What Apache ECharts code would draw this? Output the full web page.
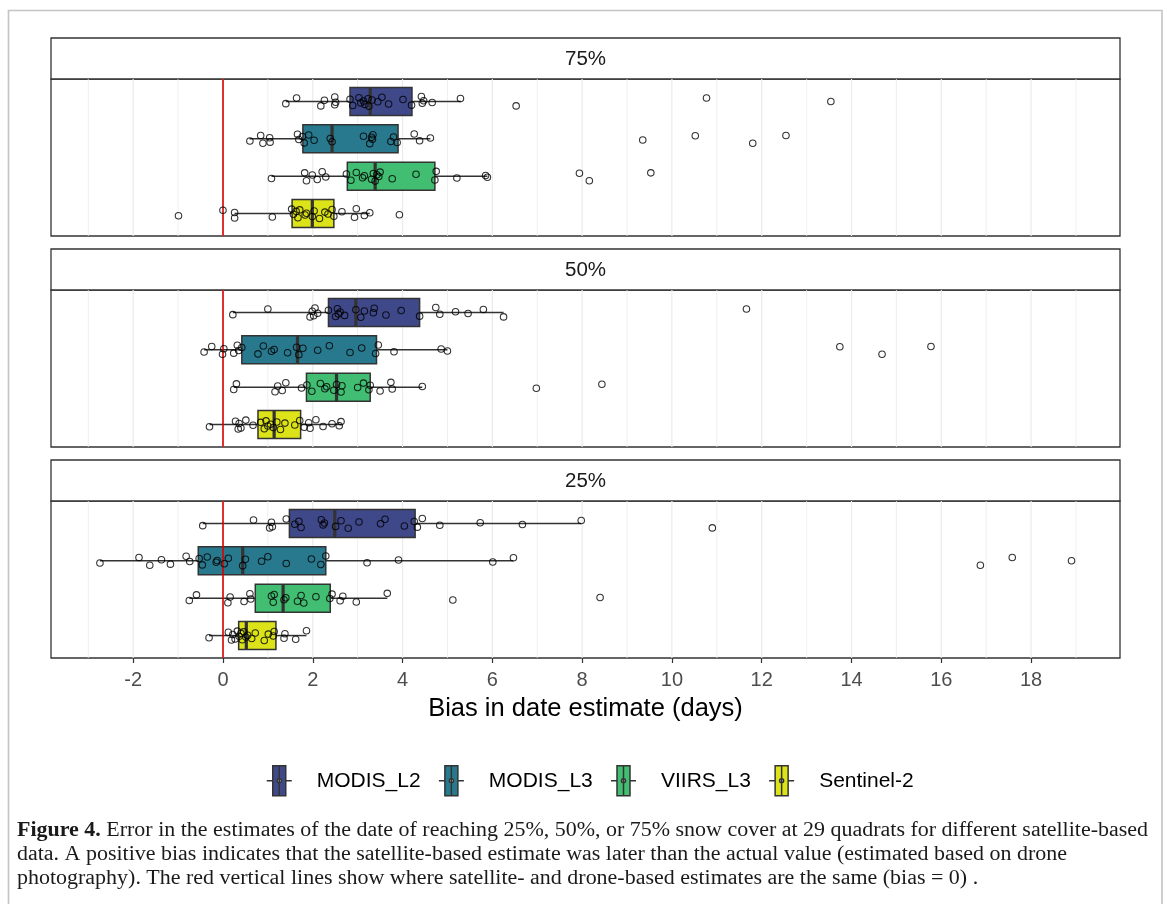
<!DOCTYPE html>
<html><head><meta charset="utf-8">
<script src="https://cdn.jsdelivr.net/npm/echarts@6/dist/echarts.min.js"></script>
<style>html,body{margin:0;padding:0;background:#fff}#c{width:1167px;height:904px}</style>
</head><body><div id="c"></div>
<script>
// ---------- DATA ----------
const satellites = ['MODIS_L2', 'MODIS_L3', 'VIIRS_L3', 'Sentinel-2'];
const panelLabels = ['75%', '50%', '25%'];
const xTickValues = [-2, 0, 2, 4, 6, 8, 10, 12, 14, 16, 18];
const xGridValues = [-3, -2, -1, 0, 1, 2, 3, 4, 5, 6, 7, 8, 9, 10, 11, 12, 13, 14, 15, 16, 17, 18, 19];
const xAxisTitle = 'Bias in date estimate (days)';
const zeroBias = 0;

// box statistics per satellite: [lower whisker, Q1, median, Q3, upper whisker]
const box75 = [[1.40, 2.83, 3.28, 4.21, 5.30], [0.59, 1.78, 2.43, 3.90, 4.62], [1.08, 2.77, 3.39, 4.72, 5.89], [0.26, 1.54, 1.99, 2.47, 3.27]];
const box50 = [[0.22, 2.35, 2.96, 4.38, 6.25], [-0.42, 0.42, 1.66, 3.42, 5.00], [0.24, 1.86, 2.53, 3.28, 4.44], [-0.30, 0.78, 1.14, 1.73, 2.65]];
const box25 = [[-0.45, 1.48, 2.49, 4.28, 7.98], [-2.74, -0.55, 0.44, 2.29, 6.47], [-0.75, 0.72, 1.34, 2.39, 3.66], [-0.31, 0.35, 0.52, 1.18, 1.86]];

// individual quadrat biases (days)
const pts75_modisL2 = [1.40, 1.64, 2.18, 2.26, 2.49, 2.49, 2.51, 2.83, 2.89, 3.03, 3.07, 3.13, 3.16, 3.23, 3.25, 3.32, 3.45, 3.54, 3.69, 4.01, 4.20, 4.42, 4.44, 4.47, 4.66, 5.29, 6.53, 10.77, 13.54];
const pts75_modisL3 = [0.60, 0.84, 0.89, 1.04, 1.05, 1.66, 1.69, 1.77, 1.81, 1.91, 2.03, 2.39, 2.43, 3.13, 3.27, 3.31, 3.33, 3.34, 3.74, 3.80, 3.88, 4.26, 4.38, 4.62, 9.35, 10.52, 11.80, 12.54];
const pts75_viirsL3 = [1.08, 1.82, 1.86, 1.99, 2.10, 2.21, 2.29, 2.75, 2.85, 2.97, 3.11, 3.15, 3.31, 3.35, 3.39, 3.43, 3.47, 3.50, 3.77, 4.30, 4.72, 4.75, 5.21, 5.85, 5.89, 7.94, 8.16, 9.53];
const pts75_sentinel2 = [-0.99, 0.00, 0.26, 0.26, 1.10, 1.53, 1.57, 1.63, 1.67, 1.71, 1.83, 1.86, 1.99, 2.03, 2.15, 2.27, 2.34, 2.43, 2.47, 2.65, 2.93, 2.97, 3.15, 3.27, 3.93];

const pts50_modisL2 = [0.22, 1.00, 1.94, 1.99, 2.02, 2.05, 2.11, 2.35, 2.51, 2.55, 2.57, 2.61, 2.71, 2.96, 3.07, 3.15, 3.35, 3.37, 3.63, 3.97, 4.38, 4.74, 4.83, 5.18, 5.46, 5.80, 6.25, 11.66];
const pts50_modisL3 = [-0.42, -0.25, -0.01, 0.02, 0.24, 0.32, 0.35, 0.42, 0.78, 0.90, 1.08, 1.14, 1.44, 1.64, 1.69, 1.78, 2.11, 2.37, 2.83, 3.09, 3.40, 3.46, 3.81, 4.86, 5.00, 13.74, 14.68, 15.77];
const pts50_viirsL3 = [0.24, 0.30, 1.16, 1.22, 1.32, 1.40, 1.75, 1.87, 1.98, 2.17, 2.27, 2.31, 2.47, 2.53, 2.63, 2.65, 3.00, 3.13, 3.25, 3.28, 3.50, 3.74, 3.77, 4.44, 6.98, 8.44];
const pts50_sentinel2 = [-0.30, 0.28, 0.34, 0.36, 0.40, 0.51, 0.67, 0.84, 0.92, 0.96, 1.00, 1.06, 1.12, 1.20, 1.28, 1.38, 1.60, 1.71, 1.81, 1.91, 1.94, 2.07, 2.23, 2.43, 2.59, 2.63];

const pts25_modisL2 = [-0.45, 0.68, 1.04, 1.08, 1.10, 1.41, 1.60, 1.69, 1.74, 2.19, 2.23, 2.26, 2.51, 2.63, 2.79, 3.03, 3.51, 3.61, 4.04, 4.26, 4.33, 4.44, 4.83, 5.73, 6.67, 7.98, 10.90];
const pts25_modisL3 = [-2.74, -1.87, -1.63, -1.37, -1.17, -0.82, -0.74, -0.53, -0.46, -0.35, -0.15, -0.13, 0.03, 0.12, 0.44, 0.50, 0.86, 1.00, 1.41, 1.97, 2.18, 2.29, 3.21, 3.91, 6.01, 6.47, 16.87, 17.58, 18.90];
const pts25_viirsL3 = [-0.75, -0.59, 0.11, 0.16, 0.47, 0.60, 0.62, 1.08, 1.12, 1.14, 1.36, 1.40, 1.66, 1.74, 1.80, 2.07, 2.38, 2.43, 2.61, 2.67, 2.97, 3.66, 5.12, 8.40];
const pts25_sentinel2 = [-0.31, 0.12, 0.19, 0.22, 0.27, 0.32, 0.36, 0.40, 0.43, 0.46, 0.51, 0.55, 0.64, 0.72, 0.92, 1.01, 1.12, 1.14, 1.36, 1.38, 1.62, 1.86];

const panelBoxes = [box75, box50, box25];
const panelPoints = [
  [pts75_modisL2, pts75_modisL3, pts75_viirsL3, pts75_sentinel2],
  [pts50_modisL2, pts50_modisL3, pts50_viirsL3, pts50_sentinel2],
  [pts25_modisL2, pts25_modisL3, pts25_viirsL3, pts25_sentinel2]
];

const captionLines = [
  'Error in the estimates of the date of reaching 25%, 50%, or 75% snow cover at 29 quadrats for different satellite-based',
  'data. A positive bias indicates that the satellite-based estimate was later than the actual value (estimated based on drone',
  'photography). The red vertical lines show where satellite- and drone-based estimates are the same (bias = 0) .'
];
const captionLabel = 'Figure 4.';

// ---------- STYLE / LAYOUT ----------
const COLORS = ['#3F4889', '#29798E', '#41BE71', '#DCE319'];
// fixed vertical jitter pattern (category units) for the overlaid points
const JITTER = [0.06, -0.09, 0.12, -0.03, 0.09, -0.12, 0.02, -0.06, 0.11, -0.10, 0.04, -0.01, 0.08, -0.07, 0.13, -0.04, 0.01, -0.11, 0.07, -0.05, 0.10, -0.13, 0.05, -0.02, 0.03, -0.08, 0.12, -0.09, 0.00, 0.06];
const FONT = '"Liberation Sans", Arial, sans-serif';
const SERIF = '"Liberation Serif", "DejaVu Serif", serif';
const PLOT_LEFT = 51, PLOT_RIGHT = 1120;
const STRIP_TOPS = [38, 249, 460];
const STRIP_H = 41, PLOT_H = 157;
const X_MIN = -3.83, X_MAX = 19.98;
const CAP_X = 17, CAP_RIGHT = 1148, CAP_SIZE = 20;

const chart = echarts.init(document.getElementById('c'), null, { renderer: 'canvas' });

const grids = [], xAxes = [], yAxes = [], series = [], graphics = [];

graphics.push({ type: 'rect', silent: true, z: 0,
  shape: { x: 8.5, y: 10.5, width: 1153.5, height: 900 },
  style: { fill: 'none', stroke: '#C4C4C4', lineWidth: 1.6 } });

panelLabels.forEach((lab, p) => {
  const top = STRIP_TOPS[p] + STRIP_H;
  grids.push({ left: PLOT_LEFT, top: top, width: PLOT_RIGHT - PLOT_LEFT, height: PLOT_H,
    show: true, borderColor: '#333333', borderWidth: 1.3, backgroundColor: '#fff', z: 0 });
  const last = p === panelLabels.length - 1;
  xAxes.push({ type: 'value', gridIndex: p, min: X_MIN, max: X_MAX,
    splitLine: { show: false }, axisLine: { show: false },
    axisTick: { show: last, length: 5, lineStyle: { color: '#333333', width: 1.2 }, customValues: xTickValues },
    axisLabel: { show: last, color: '#4D4D4D', fontSize: 20, fontFamily: FONT, margin: 12, customValues: xTickValues },
    name: last ? xAxisTitle : '', nameLocation: 'middle', nameGap: 38,
    nameTextStyle: { fontSize: 25.5, color: '#000', fontFamily: FONT } });
  yAxes.push({ type: 'value', gridIndex: p, min: 0.4, max: 4.6, inverse: true, show: false,
    splitLine: { show: false } });

  // strip
  graphics.push({ type: 'rect', silent: true, z: 1,
    shape: { x: PLOT_LEFT, y: STRIP_TOPS[p], width: PLOT_RIGHT - PLOT_LEFT, height: STRIP_H },
    style: { fill: '#fff', stroke: '#333333', lineWidth: 1.3 } });
  graphics.push({ type: 'text', silent: true, z: 2,
    x: (PLOT_LEFT + PLOT_RIGHT) / 2, y: STRIP_TOPS[p] + STRIP_H / 2 + 1,
    style: { text: lab, align: 'center', verticalAlign: 'middle', fill: '#1A1A1A', font: '20.5px ' + FONT } });

  // grid lines + zero line
  series.push({ type: 'custom', name: '_grid' + p, xAxisIndex: p, yAxisIndex: p, silent: true, z: 1,
    data: xGridValues.map(v => [v, 2.5]), encode: { x: 0, y: 1 },
    renderItem: (params, api) => {
      const v = api.value(0);
      const a = api.coord([v, 0.4]), b = api.coord([v, 4.6]);
      return { type: 'line', shape: { x1: a[0], y1: a[1], x2: b[0], y2: b[1] },
        style: { stroke: '#EBEBEB', lineWidth: (v % 2 === 0) ? 1.2 : 0.8 } };
    },
    markLine: { silent: true, symbol: ['none', 'none'], label: { show: false }, z: 8,
      lineStyle: { color: '#D80000', width: 1.6, type: 'solid' },
      emphasis: { disabled: true },
      data: [{ xAxis: zeroBias }] }
  });

  // boxes
  satellites.forEach((sat, s) => {
    const b = panelBoxes[p][s];
    series.push({ type: 'custom', name: sat, xAxisIndex: p, yAxisIndex: p, z: 3,
      itemStyle: { color: COLORS[s] },
      data: [[s + 1, b[0], b[1], b[2], b[3], b[4]]],
      encode: { y: 0, x: [1, 2, 3, 4, 5] },
      renderItem: (params, api) => {
        const k = api.value(0);
        const lo = api.coord([api.value(1), k]);
        const q1 = api.coord([api.value(2), k]);
        const md = api.coord([api.value(3), k]);
        const q3 = api.coord([api.value(4), k]);
        const hi = api.coord([api.value(5), k]);
        const yt = api.coord([api.value(2), k - 0.375])[1];
        const yb = api.coord([api.value(2), k + 0.375])[1];
        const y = q1[1];
        const col = api.visual('color');
        return { type: 'group', children: [
          { type: 'line', shape: { x1: lo[0], y1: y, x2: q1[0], y2: y }, style: { stroke: '#333333', lineWidth: 1.5 } },
          { type: 'line', shape: { x1: q3[0], y1: y, x2: hi[0], y2: y }, style: { stroke: '#333333', lineWidth: 1.5 } },
          { type: 'rect', shape: { x: q1[0], y: yt, width: q3[0] - q1[0], height: yb - yt }, style: { fill: col, stroke: '#333333', lineWidth: 1.5 } },
          { type: 'line', shape: { x1: md[0], y1: yt, x2: md[0], y2: yb }, style: { stroke: '#333333', lineWidth: 3.2 } }
        ] };
      }
    });
  });
});

// points (after all boxes so legend colours come from the boxes)
panelLabels.forEach((lab, p) => {
  satellites.forEach((sat, s) => {
    series.push({ type: 'scatter', name: sat, xAxisIndex: p, yAxisIndex: p, z: 10,
      symbol: 'circle', symbolSize: 6.5,
      itemStyle: { color: 'rgba(0,0,0,0)', borderColor: '#000', borderWidth: 1.1 },
      emphasis: { disabled: true },
      data: panelPoints[p][s].map((v, i) => [v, s + 1 + JITTER[i % JITTER.length]])
    });
  });
});

// caption: stretch horizontally so the first line spans the same width as the original typeset caption
const mctx = document.createElement('canvas').getContext('2d');
mctx.font = 'bold ' + CAP_SIZE + 'px ' + SERIF;
let capW = mctx.measureText(captionLabel + ' ').width;
mctx.font = CAP_SIZE + 'px ' + SERIF;
capW += mctx.measureText(captionLines[0]).width;
const capScale = (CAP_RIGHT - CAP_X) / capW;
captionLines.forEach((line, i) => {
  graphics.push({ type: 'text', silent: true, z: 2, x: CAP_X, y: 831 + i * 24, scaleX: capScale,
    style: { text: (i === 0 ? '{b|' + captionLabel + '} ' : '') + line,
      verticalAlign: 'middle', fill: '#1A1A1A', font: CAP_SIZE + 'px ' + SERIF,
      rich: { b: { fontWeight: 'bold', fontSize: CAP_SIZE, fontFamily: SERIF, fill: '#1A1A1A' } } } });
});

const ICON = 'path://M6,0 L19,0 L19,30 L6,30 Z M12.5,0 L12.5,30 M0,15 L6,15 M19,15 L25,15 M10.5,15 A2,2 0 1,0 14.5,15 A2,2 0 1,0 10.5,15 Z M45,15';

chart.setOption({
  animation: false,
  backgroundColor: '#fff',
  textStyle: { fontFamily: FONT },
  grid: grids, xAxis: xAxes, yAxis: yAxes,
  legend: { data: satellites.map(s => ({ name: s, icon: ICON })),
    left: 261, top: 760, itemWidth: 45, itemHeight: 30, itemGap: 17.5,
    itemStyle: { borderColor: '#333333', borderWidth: 1.5 },
    textStyle: { fontSize: 21, color: '#000', fontFamily: FONT } },
  series: series,
  graphic: graphics
});
</script></body></html>
